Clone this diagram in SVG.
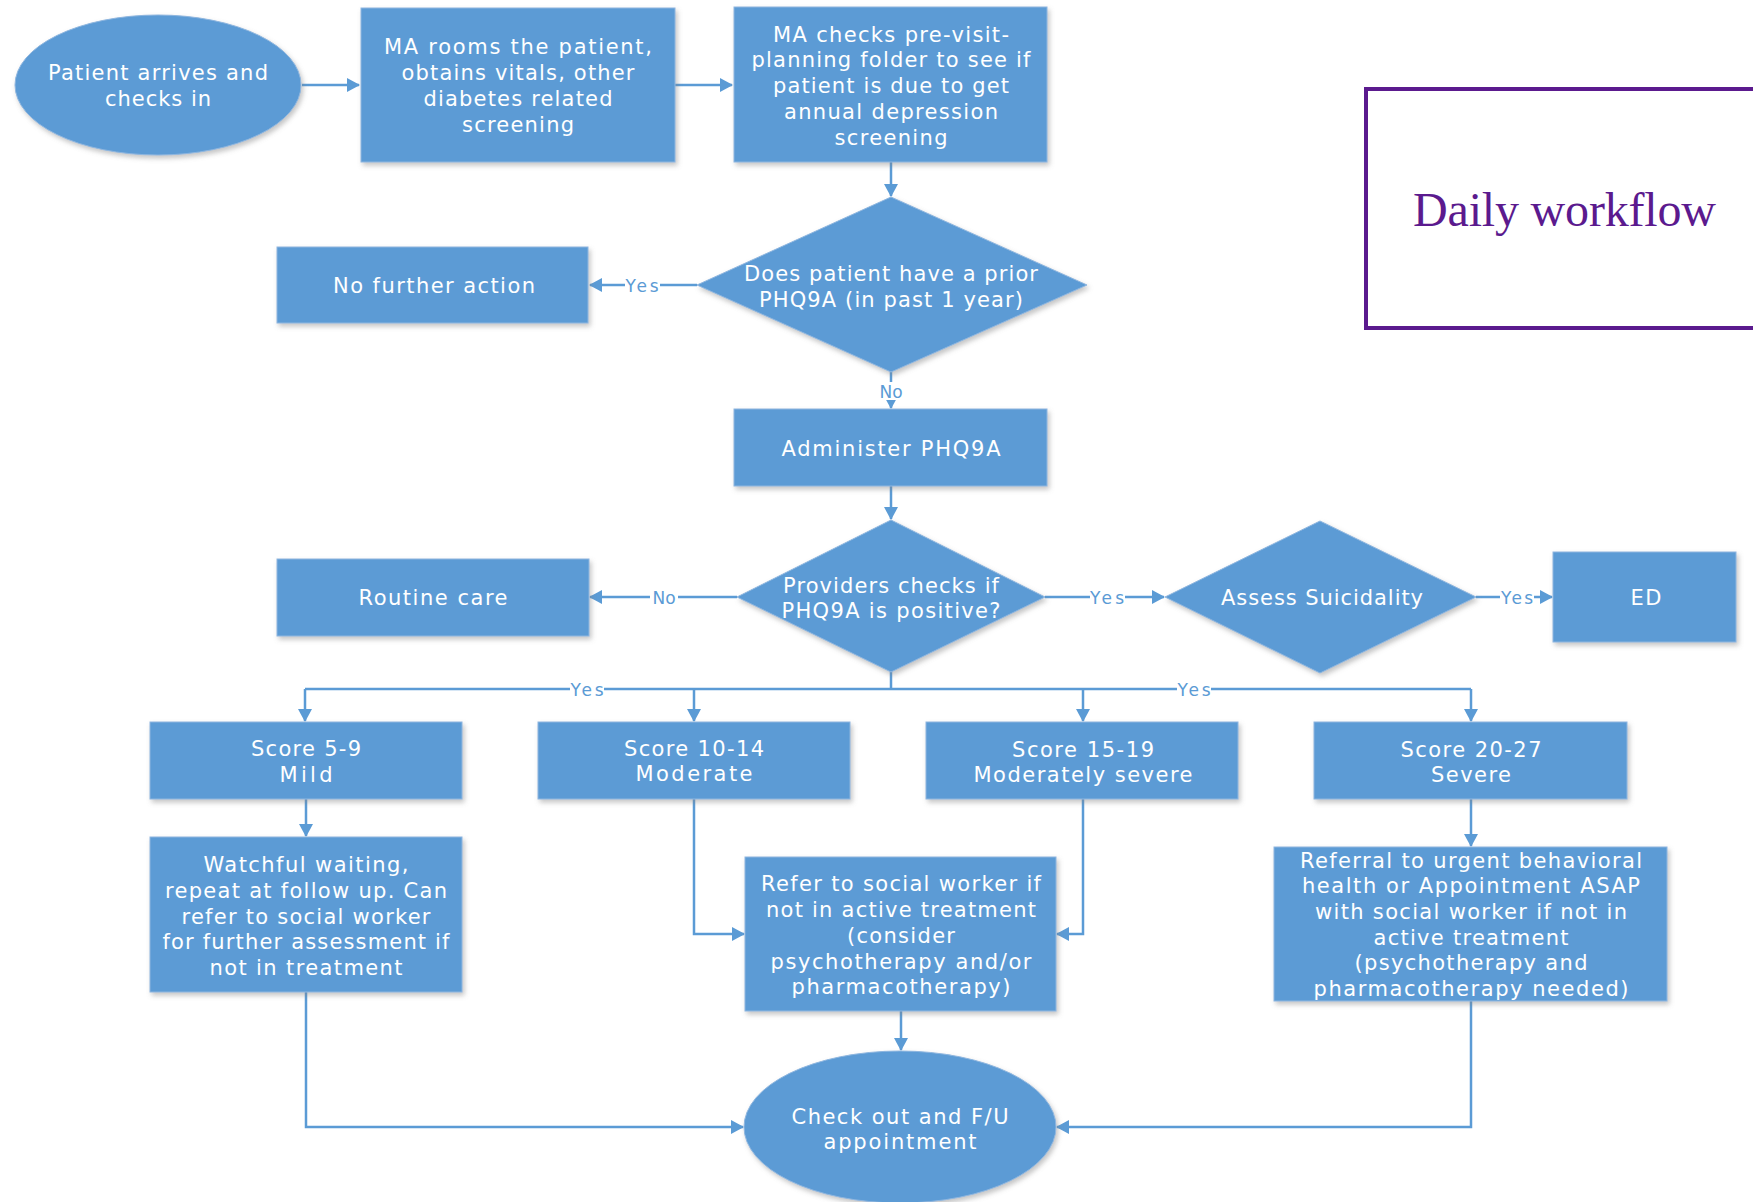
<svg xmlns="http://www.w3.org/2000/svg" width="1753" height="1202" viewBox="0 0 1753 1202">
<style>
.n{fill:#5B9BD5;stroke:#8fb6df;stroke-width:1;filter:url(#sh)}
.t{fill:#ffffff;font-family:"DejaVu Sans","Liberation Sans",sans-serif;font-size:21px;text-anchor:middle}
.c{fill:none;stroke:#5B9BD5;stroke-width:2.5}
.a{marker-end:url(#ah)}
.l{fill:#5B9BD5;font-family:"DejaVu Sans","Liberation Sans",sans-serif;font-size:17px;text-anchor:middle}
.lb{fill:#ffffff}
</style>
<defs>
<filter id="sh" x="-10%" y="-10%" width="130%" height="130%">
<feDropShadow dx="2" dy="3" stdDeviation="2.5" flood-color="#7f7f7f" flood-opacity="0.45"/>
</filter>
<marker id="ah" markerWidth="14" markerHeight="14" refX="12" refY="7" orient="auto" markerUnits="userSpaceOnUse">
<path d="M0,0 L13,7 L0,14 Z" fill="#5B9BD5"/>
</marker>
</defs>
<rect width="1753" height="1202" fill="#ffffff"/>

<g id="connectors">
<path class="c a" d="M302,85 H359"/>
<path class="c a" d="M675,85 H732"/>
<path class="c a" d="M891,162 V196"/>
<path class="c a" d="M697,285 H590"/>
<path class="c a" d="M891,372 V408"/>
<path class="c a" d="M891,486 V519"/>
<path class="c a" d="M737,597 H590"/>
<path class="c a" d="M1045,597 H1164"/>
<path class="c a" d="M1476,597 H1552"/>
<path class="c" d="M891,672 V689 M305,689 H1471"/>
<path class="c a" d="M305,689 V721"/>
<path class="c a" d="M694,689 V721"/>
<path class="c a" d="M1083,689 V721"/>
<path class="c a" d="M1471,689 V721"/>
<path class="c a" d="M306,799 V836"/>
<path class="c a" d="M306,992 V1127 H743"/>
<path class="c a" d="M694,799 V934 H744"/>
<path class="c a" d="M1083,799 V934 H1057"/>
<path class="c a" d="M901,1011 V1050"/>
<path class="c a" d="M1471,799 V846"/>
<path class="c a" d="M1471,1001 V1127 H1057"/>
<g id="labels">
<rect class="lb" x="625" y="276" width="35" height="18"/><text class="l" x="642" y="292" textLength="33">Yes</text>
<rect class="lb" x="878" y="382" width="27" height="18"/><text class="l" x="891" y="398">No</text>
<rect class="lb" x="650" y="588" width="28" height="18"/><text class="l" x="664" y="604">No</text>
<rect class="lb" x="1090" y="588" width="35" height="18"/><text class="l" x="1107" y="604" textLength="34">Yes</text>
<rect class="lb" x="1500" y="588" width="34" height="18"/><text class="l" x="1517" y="604" textLength="32">Yes</text>
<rect class="lb" x="570" y="680" width="34" height="18"/><text class="l" x="587" y="696" textLength="33">Yes</text>
<rect class="lb" x="1177" y="680" width="34" height="18"/><text class="l" x="1194" y="696" textLength="33">Yes</text>
</g>
</g>

<g id="n_arrive"><ellipse class="n" cx="158" cy="85" rx="143" ry="70"/>
<text class="t" x="158" y="80" textLength="220">Patient arrives and</text>
<text class="t" x="158" y="106" textLength="106">checks in</text></g>

<g id="n_rooms"><rect class="n" x="361" y="8" width="314" height="154"/>
<text class="t" x="518" y="54" textLength="268">MA rooms the patient,</text>
<text class="t" x="518" y="80" textLength="233">obtains vitals, other</text>
<text class="t" x="518" y="106" textLength="189">diabetes related</text>
<text class="t" x="518" y="132" textLength="112">screening</text></g>

<g id="n_checks"><rect class="n" x="734" y="7" width="313" height="155"/>
<text class="t" x="891" y="42" textLength="236">MA checks pre-visit-</text>
<text class="t" x="891" y="67" textLength="279">planning folder to see if</text>
<text class="t" x="891" y="93" textLength="236">patient is due to get</text>
<text class="t" x="891" y="119" textLength="214">annual depression</text>
<text class="t" x="891" y="145" textLength="113">screening</text></g>

<g id="n_prior"><polygon class="n" points="891,197 1087,285 891,372 697,285"/>
<text class="t" x="891" y="281" textLength="294">Does patient have a prior</text>
<text class="t" x="891" y="307" textLength="264">PHQ9A (in past 1 year)</text></g>

<g id="n_nofurther"><rect class="n" x="277" y="247" width="311" height="76"/>
<text class="t" x="434" y="293" textLength="202">No further action</text></g>

<g id="n_admin"><rect class="n" x="734" y="409" width="313" height="77"/>
<text class="t" x="891" y="456" textLength="219">Administer PHQ9A</text></g>

<g id="n_positive"><polygon class="n" points="891,520 1045,597 891,672 737,597"/>
<text class="t" x="891" y="593" textLength="216">Providers checks if</text>
<text class="t" x="891" y="618" textLength="219">PHQ9A is positive?</text></g>

<g id="n_routine"><rect class="n" x="277" y="559" width="312" height="77"/>
<text class="t" x="433" y="605" textLength="149">Routine care</text></g>

<g id="n_assess"><polygon class="n" points="1320,521 1476,597 1320,673 1165,597"/>
<text class="t" x="1322" y="605" textLength="202">Assess Suicidality</text></g>

<g id="n_ed"><rect class="n" x="1553" y="552" width="183" height="90"/>
<text class="t" x="1646" y="605" textLength="31">ED</text></g>

<g id="n_mild"><rect class="n" x="150" y="722" width="312" height="77"/>
<text class="t" x="306" y="756" textLength="110">Score 5-9</text>
<text class="t" x="306" y="782" textLength="53">Mild</text></g>

<g id="n_moderate"><rect class="n" x="538" y="722" width="312" height="77"/>
<text class="t" x="694" y="756" textLength="140">Score 10-14</text>
<text class="t" x="694" y="781" textLength="117">Moderate</text></g>

<g id="n_modsevere"><rect class="n" x="926" y="722" width="312" height="77"/>
<text class="t" x="1083" y="757" textLength="142">Score 15-19</text>
<text class="t" x="1083" y="782" textLength="219">Moderately severe</text></g>

<g id="n_severe"><rect class="n" x="1314" y="722" width="313" height="77"/>
<text class="t" x="1471" y="757" textLength="141">Score 20-27</text>
<text class="t" x="1471" y="782" textLength="80">Severe</text></g>

<g id="n_watchful"><rect class="n" x="150" y="837" width="312" height="155"/>
<text class="t" x="306" y="872" textLength="205">Watchful waiting,</text>
<text class="t" x="306" y="898" textLength="282">repeat at follow up. Can</text>
<text class="t" x="306" y="924" textLength="249">refer to social worker</text>
<text class="t" x="306" y="949" textLength="287">for further assessment if</text>
<text class="t" x="306" y="975" textLength="193">not in treatment</text></g>

<g id="n_refer"><rect class="n" x="745" y="857" width="311" height="154"/>
<text class="t" x="901" y="891" textLength="280">Refer to social worker if</text>
<text class="t" x="901" y="917" textLength="270">not in active treatment</text>
<text class="t" x="901" y="943" textLength="108">(consider</text>
<text class="t" x="901" y="969" textLength="261">psychotherapy and/or</text>
<text class="t" x="901" y="994" textLength="219">pharmacotherapy)</text></g>

<g id="n_referral"><rect class="n" x="1274" y="847" width="393" height="154"/>
<text class="t" x="1471" y="868" textLength="342">Referral to urgent behavioral</text>
<text class="t" x="1471" y="893" textLength="338">health or Appointment ASAP</text>
<text class="t" x="1471" y="919" textLength="312">with social worker if not in</text>
<text class="t" x="1471" y="945" textLength="195">active treatment</text>
<text class="t" x="1471" y="970" textLength="233">(psychotherapy and</text>
<text class="t" x="1471" y="996" textLength="315">pharmacotherapy needed)</text></g>

<g id="n_checkout"><ellipse class="n" cx="900" cy="1127" rx="156" ry="76"/>
<text class="t" x="900" y="1124" textLength="217">Check out and F/U</text>
<text class="t" x="900" y="1149" textLength="153">appointment</text></g>

<g id="title"><rect x="1366" y="89" width="420" height="239" fill="#ffffff" stroke="#5B1A8E" stroke-width="4"/>
<text x="1413" y="226" font-family="'Liberation Serif',serif" font-size="48" fill="#5B1A8E" textLength="303">Daily workflow</text></g>
</svg>
